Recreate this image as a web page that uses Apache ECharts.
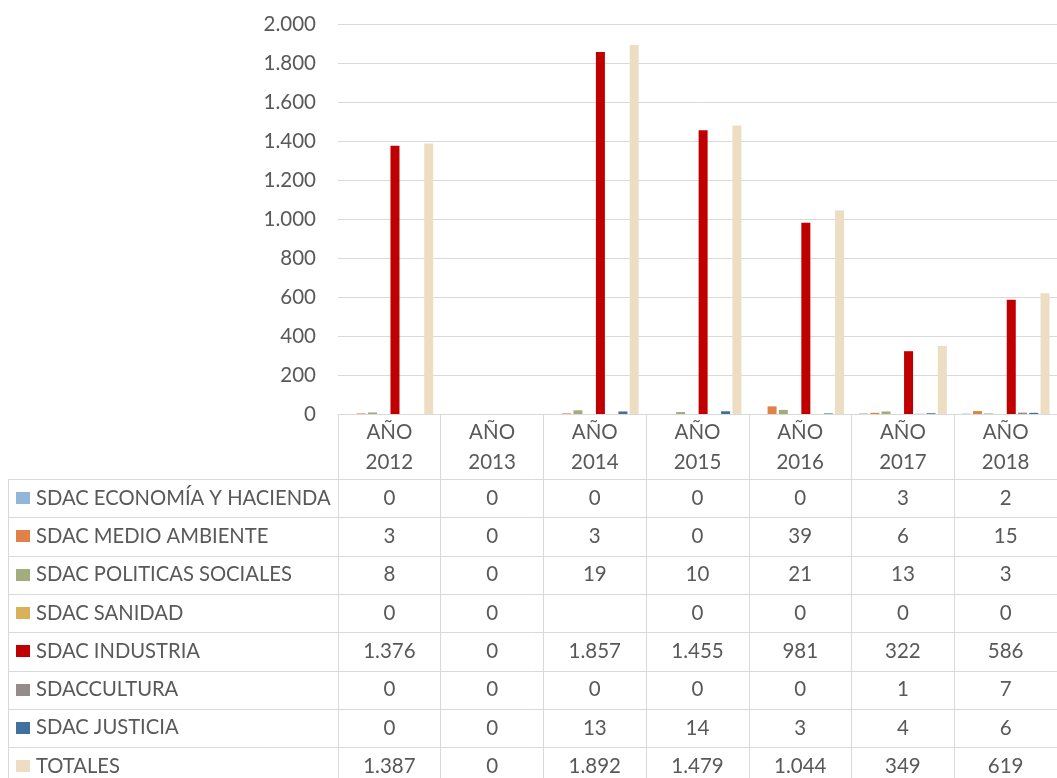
<!DOCTYPE html>
<html>
<head>
<meta charset="utf-8">
<script src="https://cdn.jsdelivr.net/npm/echarts@6/dist/echarts.min.js"></script>
<style>
  html, body { margin: 0; padding: 0; background: #fff; }
  #chart { width: 1057px; height: 778px; }
</style>
</head>
<body>
<div id="chart"></div>
<script>
// categories
const years = ['2012', '2013', '2014', '2015', '2016', '2017', '2018'];

// series values (null = empty cell in the table)
const economia   = [0, 0, 0, 0, 0, 3, 2];
const medioAmb   = [3, 0, 3, 0, 39, 6, 15];
const politicas  = [8, 0, 19, 10, 21, 13, 3];
const sanidad    = [0, 0, null, 0, 0, 0, 0];
const industria  = [1376, 0, 1857, 1455, 981, 322, 586];
const cultura    = [0, 0, 0, 0, 0, 1, 7];
const justicia   = [0, 0, 13, 14, 3, 4, 6];
const totales    = [1387, 0, 1892, 1479, 1044, 349, 619];

const seriesNames = [
    'SDAC ECONOMÍA Y HACIENDA',
    'SDAC MEDIO AMBIENTE',
    'SDAC POLITICAS SOCIALES',
    'SDAC SANIDAD',
    'SDAC INDUSTRIA',
    'SDACCULTURA',
    'SDAC JUSTICIA',
    'TOTALES'
];
const seriesData = [economia, medioAmb, politicas, sanidad, industria, cultura, justicia, totales];
const colors = ['#93B6D8', '#E0814A', '#A2AD7E', '#D9B15B', '#C00000', '#958B8B', '#40709C', '#EDDDC2'];

// y axis ticks
const yMin = 0, yMax = 2000, yStep = 200;

const FONT = 'Lato';
const FSIZE = 20.5;
const TXT = '#595959';
const LINE = '#d9d9d9';

function fmt(v) {
    if (v === null || v === undefined) return '';
    return String(v).replace(/\B(?=(\d{3})+(?!\d))/g, '.');
}

const chart = echarts.init(document.getElementById('chart'));

chart.setOption({
    animation: false,
    color: colors,
    grid: { left: 338, top: 24, width: 729, height: 390, containLabel: false },
    xAxis: {
        type: 'category',
        data: years.map(y => 'AÑO\n' + y),
        axisLine: { lineStyle: { color: LINE, width: 1 } },
        axisTick: { show: true, length: 380, lineStyle: { color: LINE, width: 1 } },
        axisLabel: {
            interval: 0,
            margin: 3,
            color: TXT,
            fontFamily: FONT,
            fontSize: FSIZE,
            lineHeight: 30
        }
    },
    yAxis: {
        type: 'value',
        min: yMin,
        max: yMax,
        interval: yStep,
        axisLine: { show: false },
        axisTick: { show: false },
        splitLine: { lineStyle: { color: LINE, width: 1 } },
        axisLabel: {
            margin: 22,
            color: TXT,
            fontFamily: FONT,
            fontSize: FSIZE,
            formatter: v => fmt(v)
        }
    },
    series: seriesNames.map((name, i) => ({
        name: name,
        type: 'bar',
        data: seriesData[i],
        barWidth: 9,
        barGap: '25%',
        itemStyle: { color: colors[i] }
    }))
});

// data table below the plot
const rowTop = 479;
const rowH = 38.3;
const tableLeft = 8;
const graphics = [];

for (let r = 0; r <= seriesNames.length; r++) {
    const y = Math.round(rowTop + r * rowH) + 0.5;
    graphics.push({
        type: 'line', silent: true,
        shape: { x1: tableLeft, y1: y, x2: 1057, y2: y },
        style: { stroke: LINE, lineWidth: 1 }
    });
}
graphics.push({
    type: 'line', silent: true,
    shape: { x1: tableLeft + 0.5, y1: rowTop, x2: tableLeft + 0.5, y2: 778 },
    style: { stroke: LINE, lineWidth: 1 }
});

seriesNames.forEach((name, r) => {
    const cy = rowTop + r * rowH + rowH / 2;
    graphics.push({
        type: 'rect', silent: true,
        shape: { x: 16, y: Math.round(cy - 6), width: 14, height: 12 },
        style: { fill: colors[r] }
    });
    graphics.push({
        type: 'text', silent: true,
        x: 36, y: cy,
        style: {
            text: name, fill: TXT, fontFamily: FONT, fontSize: 20.2,
            align: 'left', verticalAlign: 'middle'
        }
    });
    seriesData[r].forEach((v, c) => {
        const cx = chart.convertToPixel({ xAxisIndex: 0 }, c);
        graphics.push({
            type: 'text', silent: true,
            x: cx, y: cy,
            style: {
                text: fmt(v), fill: TXT, fontFamily: FONT, fontSize: FSIZE,
                align: 'center', verticalAlign: 'middle'
            }
        });
    });
});

chart.setOption({ graphic: graphics });
</script>
</body>
</html>
